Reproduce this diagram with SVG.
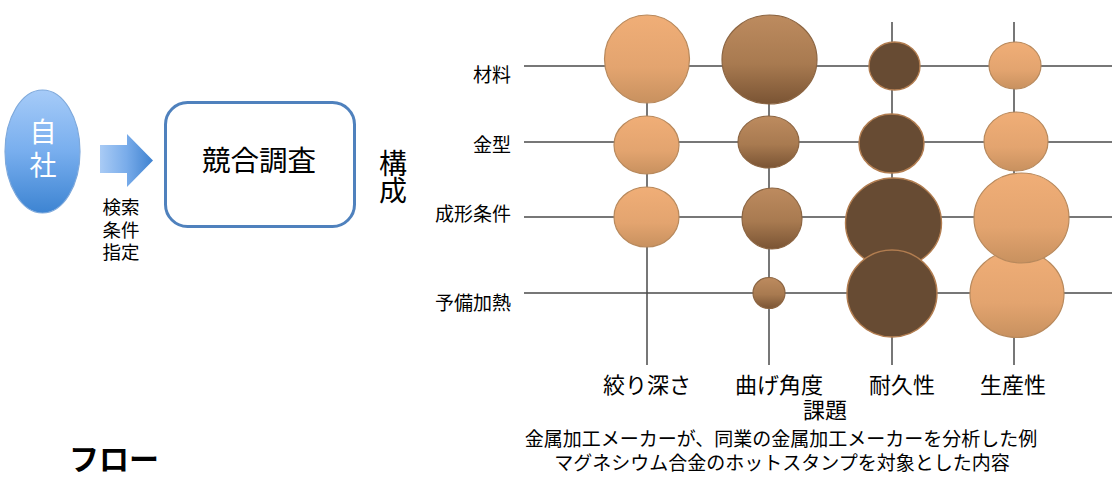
<svg xmlns="http://www.w3.org/2000/svg" width="1112" height="482" viewBox="0 0 1112 482">
<style>
.t{font-family:"Noto Sans CJK JP","Noto Sans CJK SC",sans-serif;fill:#000}
.s{font-family:"Liberation Sans","Noto Sans CJK JP","Noto Sans CJK SC",sans-serif}
.w{font-family:"Noto Sans CJK JP","Noto Sans CJK SC",sans-serif;fill:#fff}
.v{writing-mode:vertical-rl}
.grid line{stroke:#4a4a4a;stroke-width:1.5}
.lo{fill:url(#gLight);stroke:#b8895c;stroke-width:1.2}
.md{fill:url(#gMed);stroke:#8c6542;stroke-width:1.2}
.dk{fill:#674b33;stroke:#b27d50;stroke-width:1.4}
</style>
<defs>
<linearGradient id="gLight" x1="0" y1="0" x2="0" y2="1">
<stop offset="0" stop-color="#f0ae77"/>
<stop offset="0.6" stop-color="#e3a46f"/>
<stop offset="1" stop-color="#c8915f"/>
</linearGradient>
<linearGradient id="gMed" x1="0" y1="0" x2="0" y2="1">
<stop offset="0" stop-color="#bd8b5f"/>
<stop offset="0.55" stop-color="#a87a50"/>
<stop offset="1" stop-color="#7a5434"/>
</linearGradient>
<linearGradient id="gBlue" x1="0" y1="0" x2="0" y2="1">
<stop offset="0" stop-color="#a6cbf8"/>
<stop offset="0.5" stop-color="#78aeee"/>
<stop offset="1" stop-color="#3d84d2"/>
</linearGradient>
<linearGradient id="gArrow" x1="0" y1="0" x2="1" y2="0">
<stop offset="0" stop-color="#a9cbf5"/>
<stop offset="0.5" stop-color="#79acea"/>
<stop offset="1" stop-color="#3f82d0"/>
</linearGradient>
</defs>

<g id="jisha">
<ellipse cx="42.5" cy="151.5" rx="37.5" ry="61.5" fill="url(#gBlue)" stroke="#7ea9dc" stroke-width="1.2"/>
<text class="w v" x="43" y="118" font-size="27" letter-spacing="6">自社</text>
</g>

<g id="arrow">
<polygon points="100,145 127,145 127,134 153,160.5 127,187 127,173 100,173" fill="url(#gArrow)"/>
<text class="t s" font-size="18.5" text-anchor="middle"><tspan x="121" y="214">検索</tspan><tspan x="121" y="237">条件</tspan><tspan x="121" y="259">指定</tspan></text>
</g>

<g id="kyogo">
<rect x="165.5" y="102.5" width="189" height="124" rx="22" ry="22" fill="#fff" stroke="#4f81bd" stroke-width="3"/>
<text class="t" x="259" y="171" font-size="28.5" text-anchor="middle">競合調査</text>
</g>

<g id="kosei">
<text class="t v" x="393" y="149" font-size="28" letter-spacing="-1">構成</text>
</g>

<g id="flow">
<text class="t" x="69" y="470" font-size="30" font-weight="bold">フロー</text>
</g>

<g id="connectors" class="grid">
<line x1="524" y1="66" x2="1112" y2="66"/>
<line x1="524" y1="142" x2="1112" y2="142"/>
<line x1="524" y1="217" x2="1112" y2="217"/>
<line x1="524" y1="293" x2="1112" y2="293"/>
<line x1="647" y1="22" x2="647" y2="365"/>
<line x1="769" y1="22" x2="769" y2="365"/>
<line x1="892" y1="22" x2="892" y2="365"/>
<line x1="1014" y1="22" x2="1014" y2="365"/>
</g>

<g id="row-labels">
<text class="t" x="511" y="82" font-size="19" text-anchor="end">材料</text>
<text class="t" x="511" y="152" font-size="19" text-anchor="end">金型</text>
<text class="t" x="511" y="221" font-size="19" text-anchor="end">成形条件</text>
<text class="t" x="511" y="310" font-size="19" text-anchor="end">予備加熱</text>
</g>

<g id="bubbles">
<ellipse class="lo" cx="647" cy="59" rx="42.5" ry="44"/>
<ellipse class="md" cx="769.5" cy="59.5" rx="47.5" ry="44.5"/>
<ellipse class="dk" cx="894.5" cy="66" rx="25.5" ry="24"/>
<ellipse class="lo" cx="1015" cy="65.5" rx="26" ry="23.5"/>

<ellipse class="lo" cx="646.5" cy="145" rx="32.5" ry="29"/>
<ellipse class="md" cx="768.5" cy="142" rx="30.5" ry="26"/>
<ellipse class="dk" cx="891.5" cy="143.5" rx="32.5" ry="29.5"/>
<ellipse class="lo" cx="1016" cy="141.5" rx="32" ry="29.5"/>

<ellipse class="lo" cx="646.5" cy="217" rx="32.5" ry="30"/>
<ellipse class="md" cx="772" cy="218.5" rx="30" ry="30.5"/>
<ellipse class="dk" cx="893.5" cy="223" rx="48" ry="45"/>

<ellipse class="md" cx="769" cy="293" rx="16" ry="15.5"/>
<ellipse class="dk" cx="892" cy="293.5" rx="45" ry="43.5"/>
<ellipse class="lo" cx="1017" cy="294" rx="47" ry="43.5"/>
<ellipse class="lo" cx="1021.5" cy="218" rx="47.5" ry="45"/>
</g>

<g id="col-labels">
<text class="t" x="647" y="393" font-size="22" text-anchor="middle">絞り深さ</text>
<text class="t" x="779" y="393" font-size="22" text-anchor="middle">曲げ角度</text>
<text class="t" x="902" y="393" font-size="22" text-anchor="middle">耐久性</text>
<text class="t" x="1013" y="393" font-size="22" text-anchor="middle">生産性</text>
<text class="t" x="825" y="418" font-size="22" text-anchor="middle">課題</text>
</g>

<g id="caption">
<text class="t s" x="781" y="446" font-size="19" text-anchor="middle">金属加工メーカーが、同業の金属加工メーカーを分析した例</text>
<text class="t s" x="782" y="470" font-size="19" text-anchor="middle">マグネシウム合金のホットスタンプを対象とした内容</text>
</g>
</svg>
